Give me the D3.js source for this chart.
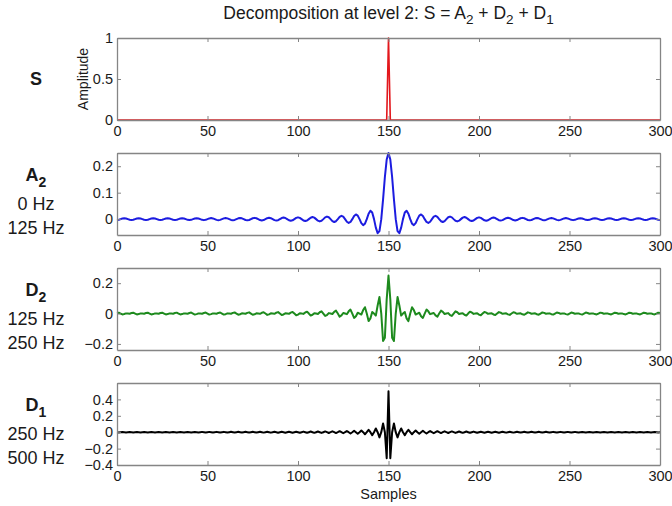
<!DOCTYPE html>
<html><head><meta charset="utf-8">
<script src="https://cdn.jsdelivr.net/npm/d3@7"></script>
<style>body{margin:0;background:#fff}svg{display:block}</style>
</head><body>
<svg id="chart" width="672" height="506"></svg>
<script>
// ---------------- DATA ----------------
const xTicks = [0, 50, 100, 150, 200, 250, 300];
const sSamples = [0, 149, 150, 151, 300];
const sValues  = [0, 0, 1, 0, 0];

const a2Values = [
-0.0033,-0.0024,0,0.0024,0.0033,0.0024,
0,-0.0024,-0.0033,-0.0024,0,0.0024,0.0034,0.0024,
0,-0.0024,-0.0034,-0.0024,0,0.0024,0.0034,0.0024,
0,-0.0024,-0.0034,-0.0024,0,0.0025,0.0035,0.0025,
0,-0.0025,-0.0035,-0.0025,0,0.0025,0.0036,0.0025,
0,-0.0026,-0.0036,-0.0026,0,0.0026,0.0037,0.0026,
0,-0.0027,-0.0038,-0.0027,0,0.0027,0.0039,0.0028,
0,-0.0028,-0.0040,-0.0028,0,0.0029,0.0041,0.0029,
0,-0.0030,-0.0043,-0.0030,0,0.0031,0.0044,0.0031,
0,-0.0032,-0.0046,-0.0033,0,0.0033,0.0048,0.0034,
0,-0.0035,-0.0050,-0.0036,0,0.0037,0.0052,0.0037,
0,-0.0038,-0.0055,-0.0040,0,0.0041,0.0058,0.0042,
0,-0.0043,-0.0062,-0.0045,0,0.0046,0.0067,0.0048,
0,-0.0050,-0.0072,-0.0052,0,0.0054,0.0078,0.0057,
0,-0.0059,-0.0086,-0.0062,0,0.0066,0.0096,0.0070,
0,-0.0074,-0.0108,-0.0079,0,0.0084,0.0124,0.0091,
0,-0.0099,-0.0146,-0.0108,0,0.0119,0.0178,0.0133,
0,-0.0151,-0.0228,-0.0174,0,0.0205,0.0319,0.0250,
0,-0.0322,-0.0531,-0.0450,0,0.0750,0.1592,0.2251,
0.25,
0.2251,0.1592,0.0750,0,-0.0450,-0.0531,-0.0322,0,
0.0250,0.0319,0.0205,0,-0.0174,-0.0228,-0.0151,0,
0.0133,0.0178,0.0119,0,-0.0108,-0.0146,-0.0099,0,
0.0091,0.0124,0.0084,0,-0.0079,-0.0108,-0.0074,0,
0.0070,0.0096,0.0066,0,-0.0062,-0.0086,-0.0059,0,
0.0057,0.0078,0.0054,0,-0.0052,-0.0072,-0.0050,0,
0.0048,0.0067,0.0046,0,-0.0045,-0.0062,-0.0043,0,
0.0042,0.0058,0.0041,0,-0.0040,-0.0055,-0.0038,0,
0.0037,0.0052,0.0037,0,-0.0036,-0.0050,-0.0035,0,
0.0034,0.0048,0.0033,0,-0.0033,-0.0046,-0.0032,0,
0.0031,0.0044,0.0031,0,-0.0030,-0.0043,-0.0030,0,
0.0029,0.0041,0.0029,0,-0.0028,-0.0040,-0.0028,0,
0.0028,0.0039,0.0027,0,-0.0027,-0.0038,-0.0027,0,
0.0026,0.0037,0.0026,0,-0.0026,-0.0036,-0.0026,0,
0.0025,0.0036,0.0025,0,-0.0025,-0.0035,-0.0025,0,
0.0025,0.0035,0.0025,0,-0.0024,-0.0034,-0.0024,0,
0.0024,0.0034,0.0024,0,-0.0024,-0.0034,-0.0024,0,
0.0024,0.0034,0.0024,0,-0.0024,-0.0033,-0.0024,0,
0.0024,0.0033,0.0024,0,-0.0024,-0.0033
];

const d2Values = [
0.0033,0.0057,0,-0.0057,-0.0033,0.0010,
0,-0.0010,0.0033,0.0057,0,-0.0057,-0.0034,0.0010,
0,-0.0010,0.0034,0.0058,0,-0.0058,-0.0034,0.0010,
0,-0.0010,0.0034,0.0059,0,-0.0059,-0.0035,0.0010,
0,-0.0010,0.0035,0.0060,0,-0.0061,-0.0036,0.0011,
0,-0.0011,0.0036,0.0063,0,-0.0063,-0.0037,0.0011,
0,-0.0011,0.0038,0.0065,0,-0.0066,-0.0039,0.0011,
0,-0.0012,0.0040,0.0069,0,-0.0070,-0.0041,0.0012,
0,-0.0012,0.0043,0.0073,0,-0.0074,-0.0044,0.0013,
0,-0.0013,0.0046,0.0079,0,-0.0080,-0.0048,0.0014,
0,-0.0014,0.0050,0.0086,0,-0.0088,-0.0052,0.0016,
0,-0.0016,0.0055,0.0095,0,-0.0098,-0.0058,0.0017,
0,-0.0018,0.0062,0.0108,0,-0.0112,-0.0067,0.0020,
0,-0.0021,0.0072,0.0125,0,-0.0131,-0.0078,0.0023,
0,-0.0025,0.0086,0.0151,0,-0.0159,-0.0096,0.0029,
0,-0.0031,0.0108,0.0190,0,-0.0204,-0.0124,0.0038,
0,-0.0041,0.0146,0.0261,0,-0.0288,-0.0178,0.0055,
0,-0.0062,0.0228,0.0419,0,-0.0495,-0.0319,0.0104,
0,-0.0133,0.0531,0.1087,0,-0.1811,-0.1592,0.0932,
0.25,
0.0932,-0.1592,-0.1811,0,0.1087,0.0531,-0.0133,0,
0.0104,-0.0319,-0.0495,0,0.0419,0.0228,-0.0062,0,
0.0055,-0.0178,-0.0288,0,0.0261,0.0146,-0.0041,0,
0.0038,-0.0124,-0.0204,0,0.0190,0.0108,-0.0031,0,
0.0029,-0.0096,-0.0159,0,0.0151,0.0086,-0.0025,0,
0.0023,-0.0078,-0.0131,0,0.0125,0.0072,-0.0021,0,
0.0020,-0.0067,-0.0112,0,0.0108,0.0062,-0.0018,0,
0.0017,-0.0058,-0.0098,0,0.0095,0.0055,-0.0016,0,
0.0016,-0.0052,-0.0088,0,0.0086,0.0050,-0.0014,0,
0.0014,-0.0048,-0.0080,0,0.0079,0.0046,-0.0013,0,
0.0013,-0.0044,-0.0074,0,0.0073,0.0043,-0.0012,0,
0.0012,-0.0041,-0.0070,0,0.0069,0.0040,-0.0012,0,
0.0011,-0.0039,-0.0066,0,0.0065,0.0038,-0.0011,0,
0.0011,-0.0037,-0.0063,0,0.0063,0.0036,-0.0011,0,
0.0011,-0.0036,-0.0061,0,0.0060,0.0035,-0.0010,0,
0.0010,-0.0035,-0.0059,0,0.0059,0.0034,-0.0010,0,
0.0010,-0.0034,-0.0058,0,0.0058,0.0034,-0.0010,0,
0.0010,-0.0034,-0.0057,0,0.0057,0.0033,-0.0010,0,
0.0010,-0.0033,-0.0057,0,0.0057,0.0033
];

const d1Values = [
0,-0.0033,0,0.0033,0,-0.0033,
0,0.0033,0,-0.0033,0,0.0034,0,-0.0034,
0,0.0034,0,-0.0034,0,0.0034,0,-0.0034,
0,0.0034,0,-0.0035,0,0.0035,0,-0.0035,
0,0.0035,0,-0.0035,0,0.0036,0,-0.0036,
0,0.0036,0,-0.0037,0,0.0037,0,-0.0037,
0,0.0038,0,-0.0038,0,0.0039,0,-0.0039,
0,0.0040,0,-0.0040,0,0.0041,0,-0.0042,
0,0.0042,0,-0.0043,0,0.0044,0,-0.0044,
0,0.0045,0,-0.0046,0,0.0047,0,-0.0048,
0,0.0049,0,-0.0050,0,0.0052,0,-0.0053,
0,0.0054,0,-0.0056,0,0.0058,0,-0.0059,
0,0.0061,0,-0.0063,0,0.0065,0,-0.0068,
0,0.0071,0,-0.0073,0,0.0077,0,-0.0080,
0,0.0084,0,-0.0088,0,0.0093,0,-0.0098,
0,0.0105,0,-0.0112,0,0.0120,0,-0.0129,
0,0.0140,0,-0.0153,0,0.0169,0,-0.0188,
0,0.0213,0,-0.0246,0,0.0290,0,-0.0354,
0,0.0455,0,-0.0637,0,0.1061,0,-0.3183,
0.5,
-0.3183,0,0.1061,0,-0.0637,0,0.0455,0,
-0.0354,0,0.0290,0,-0.0246,0,0.0213,0,
-0.0188,0,0.0169,0,-0.0153,0,0.0140,0,
-0.0129,0,0.0120,0,-0.0112,0,0.0105,0,
-0.0098,0,0.0093,0,-0.0088,0,0.0084,0,
-0.0080,0,0.0077,0,-0.0073,0,0.0071,0,
-0.0068,0,0.0065,0,-0.0063,0,0.0061,0,
-0.0059,0,0.0058,0,-0.0056,0,0.0054,0,
-0.0053,0,0.0052,0,-0.0050,0,0.0049,0,
-0.0048,0,0.0047,0,-0.0046,0,0.0045,0,
-0.0044,0,0.0044,0,-0.0043,0,0.0042,0,
-0.0042,0,0.0041,0,-0.0040,0,0.0040,0,
-0.0039,0,0.0039,0,-0.0038,0,0.0038,0,
-0.0037,0,0.0037,0,-0.0037,0,0.0036,0,
-0.0036,0,0.0036,0,-0.0035,0,0.0035,0,
-0.0035,0,0.0035,0,-0.0035,0,0.0034,0,
-0.0034,0,0.0034,0,-0.0034,0,0.0034,0,
-0.0034,0,0.0034,0,-0.0033,0,0.0033,0,
-0.0033,0,0.0033,0,-0.0033,0
];

const yDomains = [[0, 1], [-0.06, 0.25], [-0.24, 0.3], [-0.4, 0.6]];
const yTicks = [[0, 0.5, 1], [0, 0.1, 0.2], [-0.2, 0, 0.2], [-0.4, -0.2, 0, 0.2, 0.4]];
const seriesNames = [["S", ""], ["A", "2"], ["D", "2"], ["D", "1"]];
const bandLabels = [[], ["0 Hz", "125 Hz"], ["125 Hz", "250 Hz"], ["250 Hz", "500 Hz"]];
const seriesColors = ["#e3171c", "#1c1ce0", "#1d8a1d", "#000000"];
const titleText = ["Decomposition at level 2: S = A", "2", " + D", "2", " + D", "1"];

// ---------------- LAYOUT ----------------
const FONT = "'Liberation Sans', Arial, Helvetica, sans-serif";
const svg = d3.select("#chart");
const plotL = 117, plotR = 660, panelH = 82;
const panelTops = [38, 153, 268, 383];
const sampleIndex = d3.range(a2Values.length);
const seriesX = [sSamples, sampleIndex, sampleIndex, sampleIndex];
const seriesY = [sValues, a2Values, d2Values, d1Values];
const boxColor = "#858585";
const textColor = "#1a1a1a";
const tickFont = 14.5;

const x = d3.scaleLinear().domain([0, 300]).range([plotL, plotR]);

panelTops.forEach((top, p) => {
  const bottom = top + panelH;
  const y = d3.scaleLinear().domain(yDomains[p]).range([bottom, top]);
  const g = svg.append("g");

  const xs = seriesX[p], ys = seriesY[p];
  const line = d3.line().x((d, i) => x(xs[i])).y(d => y(d));
  g.append("path").datum(ys)
    .attr("d", line)
    .attr("fill", "none")
    .attr("stroke", seriesColors[p])
    .attr("stroke-width", p === 0 ? 1.6 : 2)
    .attr("stroke-linejoin", "round");

  const style = sel => {
    sel.attr("font-family", FONT).attr("font-size", tickFont);
    sel.selectAll(".domain").attr("stroke", boxColor).attr("stroke-width", 1.3);
    sel.selectAll(".tick line").attr("stroke", boxColor).attr("stroke-width", 1);
    sel.selectAll(".tick text").attr("fill", textColor);
  };

  g.append("g").attr("transform", `translate(0,${bottom})`)
    .call(d3.axisBottom(x).tickValues(xTicks).tickSize(-4).tickSizeOuter(0).tickPadding(6).tickFormat(d3.format("d")))
    .call(style);
  g.append("g").attr("transform", `translate(0,${top})`)
    .call(d3.axisTop(x).tickValues(xTicks).tickSize(-4).tickSizeOuter(0).tickFormat(""))
    .call(style);
  g.append("g").attr("transform", `translate(${plotL},0)`)
    .call(d3.axisLeft(y).tickValues(yTicks[p]).tickSize(-4).tickSizeOuter(0).tickPadding(4).tickFormat(d3.format("~g")))
    .call(style);
  g.append("g").attr("transform", `translate(${plotR},0)`)
    .call(d3.axisRight(y).tickValues(yTicks[p]).tickSize(-4).tickSizeOuter(0).tickFormat(""))
    .call(style);

  const lab = svg.append("text")
    .attr("x", 36).attr("y", p === 0 ? top + 47 : top + 28)
    .attr("text-anchor", "middle")
    .attr("font-family", FONT).attr("font-size", 18).attr("font-weight", "bold")
    .attr("fill", textColor);
  lab.append("tspan").text(seriesNames[p][0]);
  if (seriesNames[p][1]) lab.append("tspan").attr("dy", 6).attr("font-size", 14).text(seriesNames[p][1]);

  bandLabels[p].forEach((t, k) => {
    svg.append("text")
      .attr("x", 36).attr("y", top + 57 + k * 24)
      .attr("text-anchor", "middle")
      .attr("font-family", FONT).attr("font-size", 18)
      .attr("fill", textColor).text(t);
  });
});

svg.append("text")
  .attr("transform", `translate(88,${panelTops[0] + panelH / 2}) rotate(-90)`)
  .attr("text-anchor", "middle")
  .attr("font-family", FONT).attr("font-size", 14)
  .attr("fill", textColor).text("Amplitude");

svg.append("text")
  .attr("x", (plotL + plotR) / 2).attr("y", 499)
  .attr("text-anchor", "middle")
  .attr("font-family", FONT).attr("font-size", 14.5)
  .attr("fill", textColor).text("Samples");

const title = svg.append("text")
  .attr("x", (plotL + plotR) / 2).attr("y", 19)
  .attr("text-anchor", "middle")
  .attr("font-family", FONT).attr("font-size", 17.5)
  .attr("fill", textColor);
titleText.forEach((t, i) => {
  const isSub = i % 2 === 1;
  title.append("tspan")
    .attr("dy", i === 0 ? 0 : (isSub ? 5 : -5))
    .attr("font-size", isSub ? 13.5 : 17.5)
    .text(t);
});
</script>
</body></html>
